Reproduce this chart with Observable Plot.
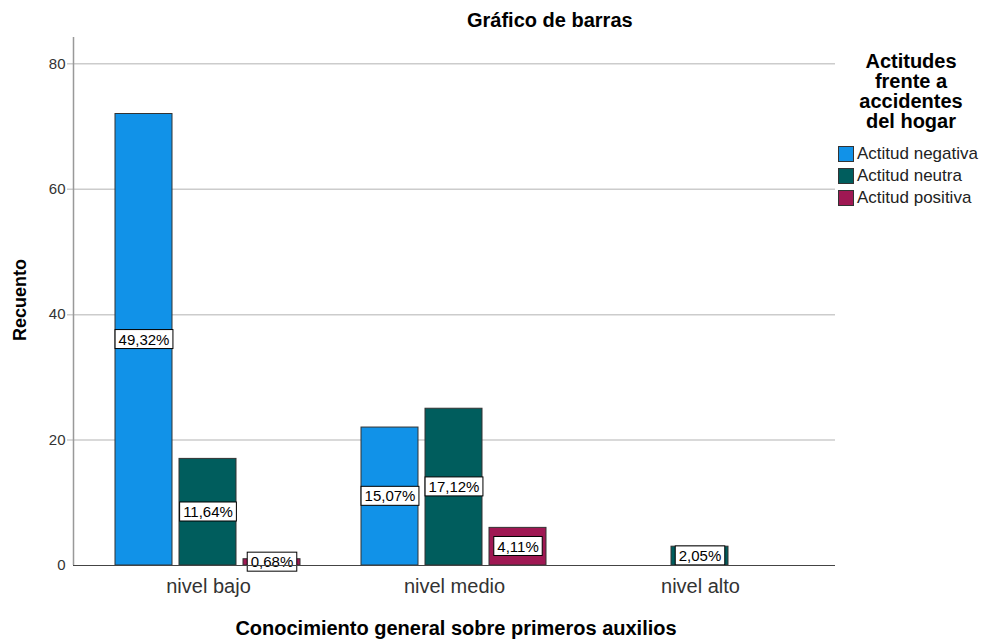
<!DOCTYPE html>
<html>
<head>
<meta charset="utf-8">
<script src="https://cdn.jsdelivr.net/npm/d3@7"></script>
<script src="https://cdn.jsdelivr.net/npm/@observablehq/plot@0.6"></script>
<style>
  html, body { margin: 0; padding: 0; background: #fff; }
  #wrap { position: relative; width: 987px; height: 640px; font-family: "Liberation Sans", Arial, sans-serif; color: #000; }
  #wrap svg { position: absolute; left: 0; top: 0; }
  .title { position: absolute; left: 467px; top: 8px; font-weight: bold; font-size: 20px; line-height: 24px; white-space: nowrap; }
  .ylab { position: absolute; left: 20px; top: 300px; transform: translate(-50%, -50%) rotate(-90deg); font-weight: bold; font-size: 18px; white-space: nowrap; }
  .xlab { position: absolute; left: 456px; top: 628px; transform: translate(-50%, -50%); font-weight: bold; font-size: 20px; line-height: 24px; white-space: nowrap; }
  .legend { position: absolute; left: 838px; top: 51px; width: 149px; }
  .legend .lt { text-align: center; font-weight: bold; font-size: 20px; line-height: 20px; width: 146px; }
  .legend .item { display: flex; align-items: center; font-size: 17px; height: 22px; color: #222; white-space: nowrap; }
  .legend .sw { width: 16px; height: 16px; border: 1px solid #333; margin-right: 3px; flex: none; box-sizing: border-box; }
</style>
</head>
<body>
<div id="wrap">
  <div class="title">Gráfico de barras</div>
  <div class="ylab">Recuento</div>
  <div class="xlab">Conocimiento general sobre primeros auxilios</div>
  <div class="legend" id="legend"></div>
</div>
<script>
const niveles = ["nivel bajo", "nivel medio", "nivel alto"];
const actitudes = ["Actitud negativa", "Actitud neutra", "Actitud positiva"];
const colores = ["#1192e8", "#005d5d", "#9f1853"];
const negativa = [72, 22, 0];
const neutra = [17, 25, 3];
const positiva = [1, 6, 0];
const yTicks = [0, 20, 40, 60, 80];

const series = [negativa, neutra, positiva];
const data = [];
niveles.forEach((nv, i) => actitudes.forEach((a, j) => data.push({nivel: nv, actitud: a, n: series[j][i]})));
const total = d3.sum(data, d => d.n);
const pct = d => (d.n / total * 100).toFixed(2).replace(".", ",") + "%";

const common = {
  width: 987,
  height: 640,
  marginLeft: 73,
  marginRight: 152,
  marginTop: 37,
  marginBottom: 75,
  style: {fontFamily: "'Liberation Sans', Arial, sans-serif", background: "transparent", overflow: "visible"}
};
const yDomain = [0, 84.2];

// base layer: y axis, grid
const baseLayer = Plot.plot({
  ...common,
  x: {domain: [0, 1], axis: null},
  y: {domain: yDomain, axis: null},
  marks: [
    Plot.ruleY(yTicks.filter(v => v > 0), {stroke: "#cccccc", strokeWidth: 1.5, insetLeft: -6}),
    Plot.axisY(yTicks, {anchor: "left", tickSize: 0, tickPadding: 8, fontSize: 15, color: "#333", label: null}),
    Plot.ruleX([0], {stroke: "#999", strokeWidth: 1.5})
  ]
});

// bar layer: faceted grouped bars
const barLayer = Plot.plot({
  ...common,
  fx: {domain: niveles, paddingInner: 0, paddingOuter: 0.0456, label: null},
  x: {domain: actitudes, paddingInner: 0.108, paddingOuter: 0.45, axis: null},
  y: {domain: yDomain, axis: null},
  color: {domain: actitudes, range: colores},
  marks: [
    Plot.barY(data, {filter: d => d.n > 0, fx: "nivel", x: "actitud", y: "n", fill: "actitud", stroke: "#333", strokeWidth: 1}),
    Plot.text(data, {filter: d => d.n > 0, fx: "nivel", x: "actitud", y: d => d.n / 2, text: pct, fontSize: 15, fill: "#000"}),
    Plot.axisFx({anchor: "bottom", tickSize: 0, tickPadding: 13, fontSize: 20, label: null, color: "#333"})
  ]
});

// top layer: baseline
const lineLayer = Plot.plot({
  ...common,
  x: {domain: [0, 1], axis: null},
  y: {domain: yDomain, axis: null},
  marks: [Plot.ruleY([0], {stroke: "#444", strokeWidth: 1})]
});

const wrap = document.getElementById("wrap");
wrap.appendChild(baseLayer);
wrap.appendChild(barLayer);
wrap.appendChild(lineLayer);

// white boxes behind the percentage labels
barLayer.querySelectorAll("text").forEach(t => {
  if (!/%$/.test(t.textContent)) return;
  const b = t.getBBox();
  const r = document.createElementNS("http://www.w3.org/2000/svg", "rect");
  r.setAttribute("x", b.x - 3.5);
  r.setAttribute("y", b.y - 1);
  r.setAttribute("width", b.width + 7);
  r.setAttribute("height", b.height + 2);
  r.setAttribute("fill", "#fff");
  r.setAttribute("stroke", "#000");
  r.setAttribute("stroke-width", 1);
  const tr = t.getAttribute("transform");
  if (tr) r.setAttribute("transform", tr);
  t.parentNode.insertBefore(r, t);
});

// legend
const lg = document.getElementById("legend");
const lt = document.createElement("div");
lt.className = "lt";
lt.innerHTML = "Actitudes<br>frente a<br>accidentes<br>del hogar";
lg.appendChild(lt);
const sp = document.createElement("div");
sp.style.height = "12px";
lg.appendChild(sp);
actitudes.forEach((a, i) => {
  const it = document.createElement("div");
  it.className = "item";
  const sw = document.createElement("span");
  sw.className = "sw";
  sw.style.background = colores[i];
  it.appendChild(sw);
  it.appendChild(document.createTextNode(a));
  lg.appendChild(it);
});
</script>
</body>
</html>
